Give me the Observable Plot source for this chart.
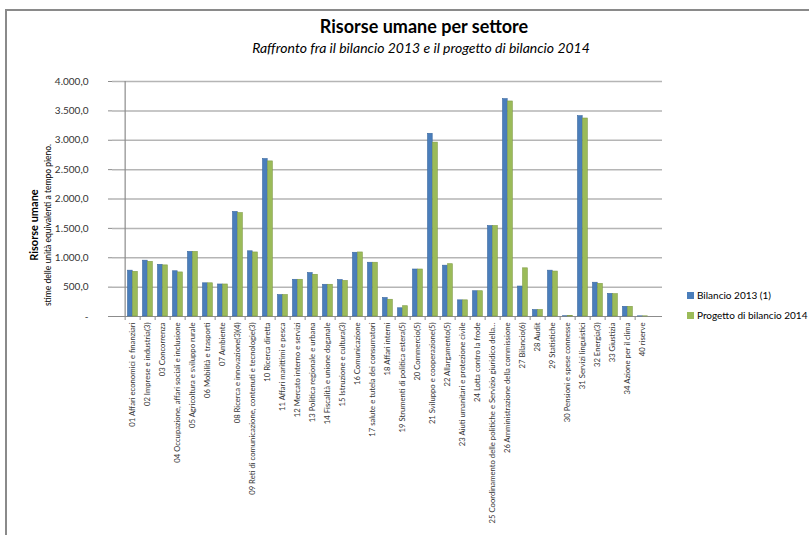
<!DOCTYPE html>
<html><head><meta charset="utf-8">
<script src="https://cdn.jsdelivr.net/npm/d3@7"></script>
<script src="https://cdn.jsdelivr.net/npm/@observablehq/plot@0.6"></script>
<style>
body{margin:0;background:#fff;font-family:Lato,"Open Sans",sans-serif;}
#wrap{position:relative;width:809px;height:535px;overflow:hidden;}
#frame{position:absolute;left:5px;top:9px;width:820px;height:540px;border-left:2px solid #8a8a8a;border-top:2px solid #8a8a8a;}
#title{position:absolute;left:0;width:848px;top:15px;text-align:center;font-weight:bold;font-size:18px;color:#000;}
#sub{position:absolute;left:0;width:842px;top:39px;text-align:center;font-style:italic;font-size:14px;color:#000;}
#ylab{position:absolute;left:41px;top:225px;transform:translate(-50%,-50%) rotate(-90deg);text-align:center;white-space:nowrap;line-height:11px;}
#ylab b{font-size:11px;display:block;}
#ylab span{font-size:8.5px;}
#legend{position:absolute;left:687px;top:285px;font-size:10px;line-height:20px;white-space:nowrap;}
#legend i{display:inline-block;width:7px;height:7px;margin-right:3px;}
#chart{position:absolute;left:0;top:0;}
</style></head>
<body><div id="wrap">
<div id="frame"></div>
<div id="title">Risorse umane per settore</div>
<div id="sub">Raffronto fra il bilancio 2013 e il progetto di bilancio 2014</div>
<div id="ylab"><b>Risorse umane</b><span>stime delle unità equivalenti a tempo pieno.</span></div>
<div id="legend"></div>
<div id="chart"></div>
</div>
<script>
const categories = [
"01 Affari economici e finanziari","02 Imprese e industria(3)","03 Concorrenza",
"04 Occupazione, affari sociali e inclusione","05 Agricoltura e sviluppo rurale","06 Mobilità e trasporti",
"07 Ambiente","08 Ricerca e innovazione(3)(4)","09 Reti di comunicazione, contenuti e tecnologie(3)",
"10 Ricerca diretta","11 Affari marittimi e pesca","12 Mercato interno e servizi",
"13 Politica regionale e urbana","14 Fiscalità e unione doganale","15 Istruzione e cultura(3)",
"16 Comunicazione","17 salute e tutela dei consumatori","18 Affari interni",
"19 Strumenti di politica estera(5)","20 Commercio(5)","21 Sviluppo e cooperazione(5)",
"22 Allargamento(5)","23 Aiuti umanitari e protezione civile","24 Lotta contro la frode",
"25 Coordinamento delle politiche e Servizio giuridico della...","26 Amministrazione della commissione","27 Bilancio(6)",
"28 Audit","29 Statistiche","30 Pensioni e spese connesse",
"31 Servizi linguistici","32 Energia(3)","33 Giustizia",
"34 Azione per il clima","40 riserve"];
const bilancio2013 = [780,950,880,770,1100,565,545,1780,1110,2680,365,625,740,540,620,1085,915,315,140,800,3110,865,275,430,1540,3700,510,110,780,5,3410,575,385,165,3];
const progetto2014 = [760,930,870,750,1100,565,545,1760,1090,2640,365,625,710,540,605,1090,915,285,175,800,2960,890,275,430,1540,3660,820,110,765,10,3370,555,380,165,3];
const seriesNames = ["Bilancio 2013 (1)","Progetto di bilancio 2014"];
const seriesColors = ["#4a7ebb","#9bbb59"];
const yTicks = [0,500,1000,1500,2000,2500,3000,3500,4000];

const it = d3.formatLocale({decimal:",",thousands:".",grouping:[3],currency:["€",""]});
const fmt = v => v === 0 ? "-" : it.format(",.1f")(v);

const d13 = categories.map((c,i)=>({cat:c, v:bilancio2013[i]}));
const d14 = categories.map((c,i)=>({cat:c, v:progetto2014[i]}));

const plot = Plot.plot({
  width: 809, height: 535,
  marginTop: 81, marginBottom: 219, marginLeft: 112, marginRight: 147,
  style: {fontFamily: "Lato, 'Open Sans', sans-serif", background: "transparent", color:"#333"},
  x: {domain: categories, padding: 0, label: null},
  y: {domain: [0,4000], label: null},
  marks: [
    Plot.ruleY(yTicks.slice(1), {stroke: "#b5b5b5", strokeWidth: 1.5}),
    Plot.ruleY([0], {stroke: "#8c8c8c", strokeWidth: 1.2}),
    Plot.ruleX([categories[0]], {stroke: "#8c8c8c", strokeWidth: 1.2, dx: -7.85, y1: 0, y2: 4000}),
    Plot.ruleX(categories, {x: d=>d, dx: -7.85, y1: 0, y2: 0, insetBottom: -4, stroke: "#8c8c8c"}),
    Plot.barY(d13, {x: "cat", y: "v", fill: seriesColors[0], stroke: "#3b689f", strokeWidth: 0.6, insetLeft: 2.5, insetRight: 7.8}),
    Plot.barY(d14, {x: "cat", y: "v", fill: seriesColors[1], stroke: "#7f9c45", strokeWidth: 0.6, insetLeft: 7.6, insetRight: 2.7}),
    Plot.axisY({ticks: yTicks, tickFormat: fmt, tickSize: 4, tickPadding: 20, fontSize: 10, stroke:"#8c8c8c", color:"#333"}),
    Plot.axisX({tickRotate: -90, tickSize: 0, tickPadding: 6, fontSize: 7.7, color:"#333"})
  ]
});
document.getElementById("chart").appendChild(plot);

const lg = document.getElementById("legend");
lg.innerHTML = seriesNames.map((n,i)=>`<div><i style="background:${seriesColors[i]}"></i>${n}</div>`).join("");
</script>
</body></html>
